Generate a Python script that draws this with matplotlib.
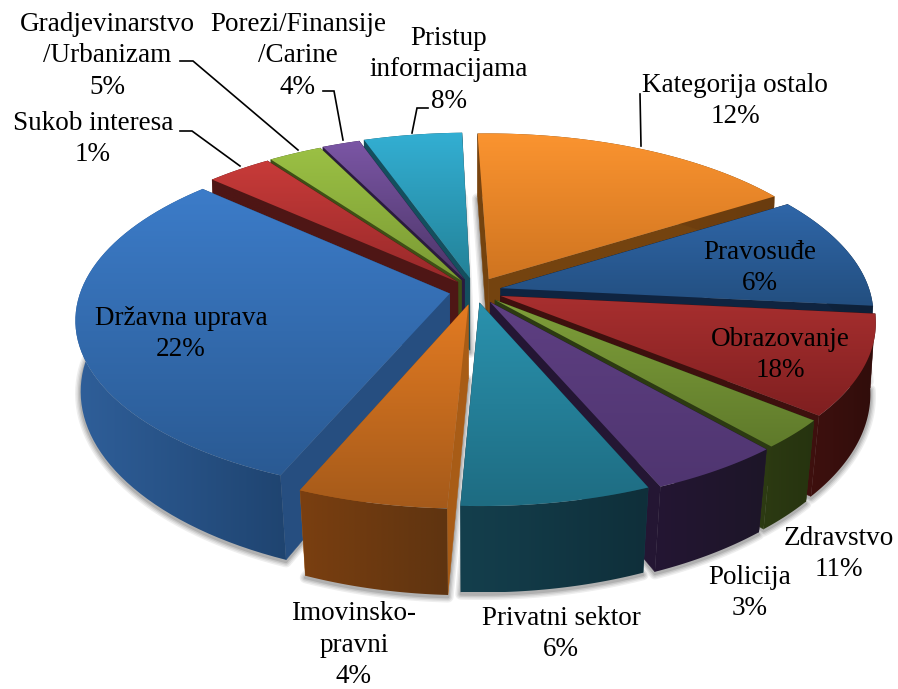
import numpy as np
import matplotlib
matplotlib.use('Agg')
import matplotlib.pyplot as plt
from matplotlib.patches import Polygon

plt.rcParams['font.family'] = ['Liberation Serif', 'DejaVu Serif']

# labels and printed percentages
names = ['Kategorija ostalo', 'Pravosuđe', 'Obrazovanje', 'Zdravstvo', 'Policija', 'Privatni sektor',
         'Imovinsko-\npravni', 'Državna uprava', 'Sukob interesa', 'Gradjevinarstvo\n/Urbanizam',
         'Porezi/Finansije\n/Carine', 'Pristup\ninformacijama']
percents = [12, 6, 18, 11, 3, 6, 4, 22, 1, 5, 4, 8]
# slice sizes as drawn (share of the circle), they differ from the printed numbers
drawn_share = [16.5, 10.6, 9.3, 2.7, 5.0, 7.1, 5.6, 30.4, 3.3, 2.7, 1.9, 4.95]
explode = [.08, .072, .075, .075, .077, .07, .082, .07, .07, .072, .075, .078]

top_light = ['#FB9430', '#2F66A8', '#A82F2F', '#7F9F3A', '#5E3F82', '#2A92AE',
             '#E37B22', '#3C7CC9', '#C83B39', '#9BC044', '#7B56A5', '#33AFD3']
top_dark = ['#CF7420', '#234F80', '#7F1F20', '#5F7A2B', '#4F3570', '#1E6C82',
            '#A55A1A', '#2A5A93', '#98292A', '#7A9A34', '#4C3568', '#238298']
wall_light = ['#7A4510', '#10263F', '#3E100E', '#2C3A12', '#241633', '#143F4D',
              '#7A3F10', '#2F5F9A', '#4E1615', '#3E5016', '#2A1B3E', '#144F5E']
wall_dark = ['#6A3C0E', '#0E2038', '#300D0B', '#26330F', '#1D1528', '#0F2F3A',
             '#5F3410', '#1F4470', '#4E1615', '#3E5016', '#2A1B3E', '#144F5E']
radial = ['#74430F', '#0F2440', '#3E100E', '#2C3A12', '#241633', '#143F4D',
          '#A85C16', '#264E80', '#4E1615', '#3E5016', '#2A1B3E', '#144F5E']

label_xy = [(735, 101), (760, 268), (780, 355), (839, 554), (750, 593), (561, 634),
            (354, 645), (181, 334), (93, 139), (107, 56), (298, 56), (449, 70)]
leaders = [[(640, 94), (641, 146)],
           [(180, 131), (192, 131), (240, 166)],
           [(180, 61), (193, 61), (298, 150)],
           [(323, 91), (334, 91), (343, 140)],
           [(428, 108), (417, 108), (412, 133)]]

# back to front
draw_order = [11, 10, 9, 8, 0, 1, 7, 2, 3, 4, 6, 5]

cx, cy, rx, ry, k = 475, 291, 369, 170, 0.145
depth = 73
start_angle = -1.7


def project(X, Y):
    w = 1 / (1 + k * Y)
    return cx + rx * X * w, cy - ry * Y * w, w


def down(x, y, w, Y):
    # lower rim: nearly the same width at the sides, a bit narrower in front
    shrink = 0.99 + 0.02 * np.minimum(Y, 0)
    return cx + (x - cx) * shrink, y + depth * w


def gradient(ax, pts, c1, c2, vertical, z):
    pts = np.array(pts)
    rgb1 = np.array(matplotlib.colors.to_rgb(c1))
    rgb2 = np.array(matplotlib.colors.to_rgb(c2))
    t = np.linspace(0, 1, 256)
    img = rgb1[None, :] * (1 - t[:, None]) + rgb2[None, :] * t[:, None]
    img = img[:, None, :] if vertical else img[None, :, :]
    x0, x1, y0, y1 = pts[:, 0].min(), pts[:, 0].max(), pts[:, 1].min(), pts[:, 1].max()
    im = ax.imshow(img, extent=(x0, x1, y1, y0), aspect='auto', zorder=z, interpolation='bilinear')
    patch = Polygon(pts, closed=True, transform=ax.transData, fc='none', ec='none')
    ax.add_patch(patch)
    im.set_clip_path(patch)


fig = plt.figure(figsize=(8.98, 6.89), dpi=100)
ax = fig.add_axes([0, 0, 1, 1])

# geometry of the slices
shapes = []
edges = np.cumsum([0] + drawn_share) * 3.6 + start_angle
for i in range(len(drawn_share)):
    a0, a1 = np.radians(edges[i]), np.radians(edges[i + 1])
    mid = (a0 + a1) / 2
    ox, oy = explode[i] * np.sin(mid), explode[i] * np.cos(mid)
    t = np.linspace(a0, a1, 60)
    arc_y = oy + np.cos(t)
    ax_, ay_, aw = project(ox + np.sin(t), arc_y)
    tx, ty, tw = project(ox, oy)
    bx, by = down(ax_, ay_, aw, arc_y)
    tbx, tby = down(tx, ty, tw, oy)
    shapes.append(dict(
        top=[(tx, ty)] + list(zip(ax_, ay_)),
        outer=list(zip(ax_, ay_)) + list(zip(bx[::-1], by[::-1])),
        r0=[(tx, ty), (ax_[0], ay_[0]), (bx[0], by[0]), (tbx, tby)],
        r1=[(tx, ty), (ax_[-1], ay_[-1]), (bx[-1], by[-1]), (tbx, tby)],
        bottom=[(tbx, tby)] + list(zip(bx, by)),
    ))

# soft shadow on the ground, only around the lower faces
for lw, col in [(8, '#eeeeee'), (6, '#dddddd'), (4, '#c8c8c8'), (2, '#b0b0b0')]:
    for s in shapes:
        sh = [(x, y + 2) for x, y in s['bottom']]
        ax.add_patch(Polygon(sh, closed=True, fc=col, ec=col, lw=lw, zorder=1, joinstyle='round'))

z = 2
for i in draw_order:
    s = shapes[i]
    ax.add_patch(Polygon(s['r0'], closed=True, fc=radial[i], ec=radial[i], lw=0.3, zorder=z))
    ax.add_patch(Polygon(s['r1'], closed=True, fc=radial[i], ec=radial[i], lw=0.3, zorder=z))
    gradient(ax, s['outer'], wall_light[i], wall_dark[i], False, z + 0.1)
    gradient(ax, s['top'], top_light[i], top_dark[i], True, z + 0.2)
    z += 1

for line in leaders:
    xs, ys = zip(*line)
    ax.plot(xs, ys, color='black', lw=1.2, zorder=50, solid_joinstyle='miter')

for name, pct, (x, y) in zip(names, percents, label_xy):
    ax.text(x, y, f'{name}\n{pct}%', ha='center', va='center', fontsize=19.5,
            linespacing=1.32, color='black', zorder=60)

ax.set_xlim(0, 898)
ax.set_ylim(689, 0)
ax.axis('off')
fig.savefig('out.png', dpi=100)
